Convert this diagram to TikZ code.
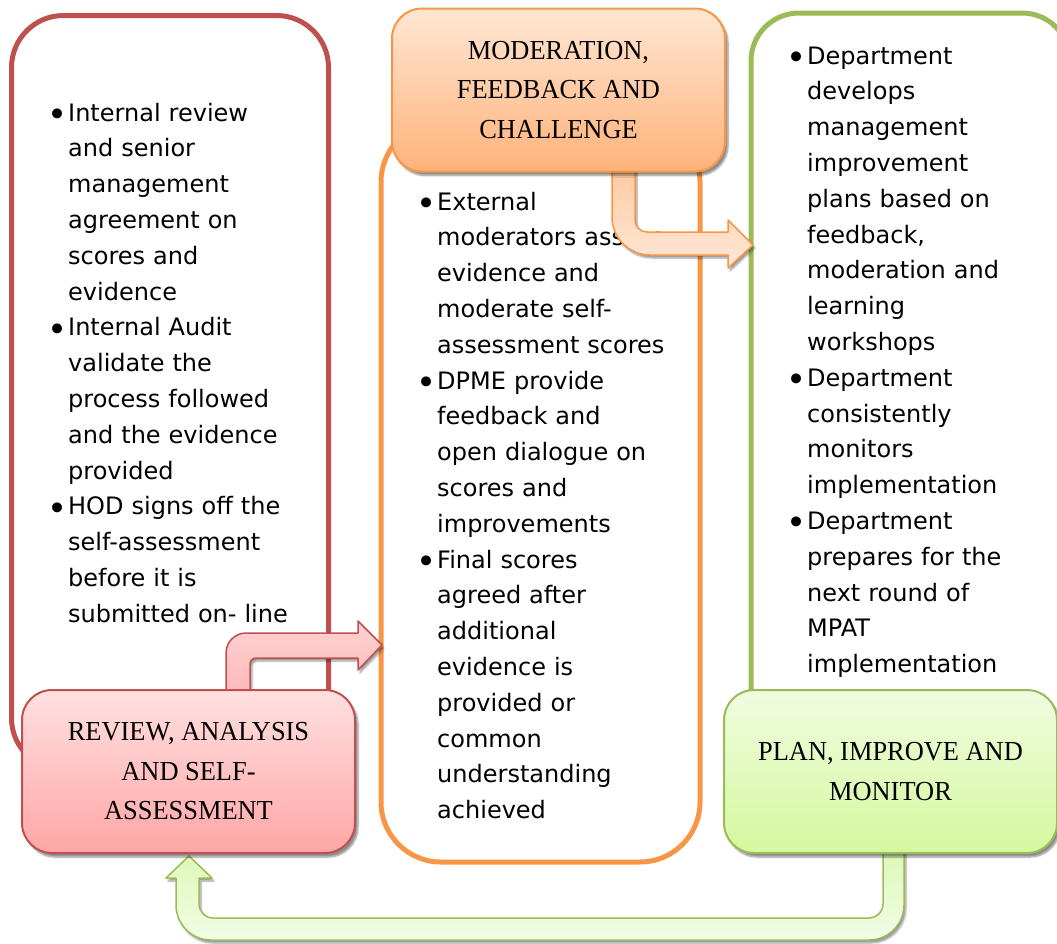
\documentclass[tikz,border=0pt]{standalone}
\usepackage{fontspec}
\newfontfamily\bodyfont{DejaVu Sans}
\newfontfamily\titlefont{Liberation Serif}[FakeStretch=0.96]
\usetikzlibrary{shadows.blur}
\definecolor{redline}{HTML}{C0504D}
\definecolor{orangeline}{HTML}{F79646}
\definecolor{greenline}{HTML}{9BBB59}
\definecolor{redtop}{HTML}{FFE0E0}
\definecolor{redbottom}{HTML}{FFA6A6}
\definecolor{orangetop}{HTML}{FFE6D3}
\definecolor{orangebottom}{HTML}{FFB27A}
\definecolor{greentop}{HTML}{F1FCE0}
\definecolor{greenbottom}{HTML}{D4F89E}
\definecolor{redarrowtop}{HTML}{FFD2D2}
\definecolor{redarrowbottom}{HTML}{FFB8B8}
\definecolor{orangearrowtop}{HTML}{FFC9A0}
\definecolor{orangearrowbottom}{HTML}{FFE8D8}
\definecolor{greenarrowtop}{HTML}{DCF7B4}
\definecolor{greenarrowbottom}{HTML}{F2FDE6}
\newcommand{\bitem}{\leavevmode\llap{\raisebox{-5.5pt}{\fontsize{34}{34}\selectfont •}\hspace{0.3pt}}}

\begin{document}
\begin{tikzpicture}[x=1pt,y=-1pt,
  frame/.style={line width=5pt, rounded corners=#1},
  bodytext/.style={anchor=base west, inner sep=0pt, text width=300pt, align=left,
    font=\bodyfont\fontsize{24}{35.8}\selectfont},
  stage/.style={rectangle, rounded corners=30pt, line width=2pt, inner sep=0pt,
    minimum width=333pt, minimum height=163pt, align=center,
    font=\titlefont\fontsize{27.5}{39.5}\selectfont,
    blur shadow={shadow xshift=3pt, shadow yshift=-4pt, shadow blur steps=6, shadow opacity=45}},
  blockarrow/.style={line width=1.5pt, line join=round,
    blur shadow={shadow xshift=2pt, shadow yshift=-3pt, shadow blur steps=5, shadow opacity=40}}
]
\useasboundingbox (0,0) rectangle (1057,943);

% column frames
\draw[frame=52pt, redline]    (11.5,15.5) rectangle (328.5,770);
\draw[frame=60pt, orangeline] (381,122)   rectangle (700,862);
\draw[frame=48pt, greenline]  (751,13)    rectangle (1070,760);

% column texts
\node[bodytext] (reviewtext) at (68,121) {%
\bitem Internal review\\ and senior\\ management\\ agreement on\\ scores and\\ evidence\\
\bitem Internal Audit\\ validate the\\ process followed\\ and the evidence\\ provided\\
\bitem HOD signs off the\\ self-assessment\\ before it is\\ submitted on- line};

\node[bodytext] (moderationtext) at (437,210) {%
\bitem External\\ moderators assess\\ evidence and\\ moderate self-\\ assessment scores\\
\bitem DPME provide\\ feedback and\\ open dialogue on\\ scores and\\ improvements\\
\bitem Final scores\\ agreed after\\ additional\\ evidence is\\ provided or\\ common\\ understanding\\ achieved};

\node[bodytext] (plantext) at (807,64) {%
\bitem Department\\ develops\\ management\\ improvement\\ plans based on\\ feedback,\\ moderation and\\ learning\\ workshops\\
\bitem Department\\ consistently\\ monitors\\ implementation\\
\bitem Department\\ prepares for the\\ next round of\\ MPAT\\ implementation};

% bent arrows between the stages
\path[blockarrow, draw=redline, top color=redarrowtop, bottom color=redarrowbottom]
  (226,695) -- (226,653) .. controls (226,641.96) and (234.96,633) .. (246,633)
  -- (358,633) -- (358,621) -- (382,645) -- (358,670) -- (358,658)
  -- (256,658) .. controls (252.69,658) and (250,660.69) .. (250,664)
  -- (250,695) -- cycle;

\path[blockarrow, draw=orangeline, top color=orangearrowtop, bottom color=orangearrowbottom]
  (612,165) -- (612,217) .. controls (612,237.98) and (629.02,255) .. (650,255)
  -- (728,255) -- (728,268) -- (753,245) -- (728,220) -- (728,232)
  -- (647,232) .. controls (640.38,232) and (635,226.62) .. (635,220)
  -- (635,165) -- cycle;

\path[blockarrow, draw=greenline, top color=greenarrowtop, bottom color=greenarrowbottom]
  (904,845) -- (904,905) .. controls (904,924.32) and (888.32,940) .. (869,940)
  -- (211,940) .. controls (191.68,940) and (176,924.32) .. (176,905)
  -- (176,878) -- (166,878) -- (189,856) -- (212,878) -- (199,878)
  -- (199,904) .. controls (199,911.73) and (205.27,918) .. (213,918)
  -- (869,918) .. controls (876.73,918) and (883,911.73) .. (883,904)
  -- (883,845) -- cycle;

% stage boxes
\node[stage, draw=redline, top color=redtop, bottom color=redbottom]
  (review) at (188.5,771.5) {REVIEW, ANALYSIS\\ AND SELF-\\ ASSESSMENT};
\node[stage, draw=orangeline, top color=orangetop, bottom color=orangebottom]
  (moderation) at (558.5,90) {MODERATION,\\ FEEDBACK AND\\ CHALLENGE};
\node[stage, draw=greenline, top color=greentop, bottom color=greenbottom]
  (plan) at (890.5,771.5) {PLAN, IMPROVE AND\\ MONITOR};
\end{tikzpicture}
\end{document}
